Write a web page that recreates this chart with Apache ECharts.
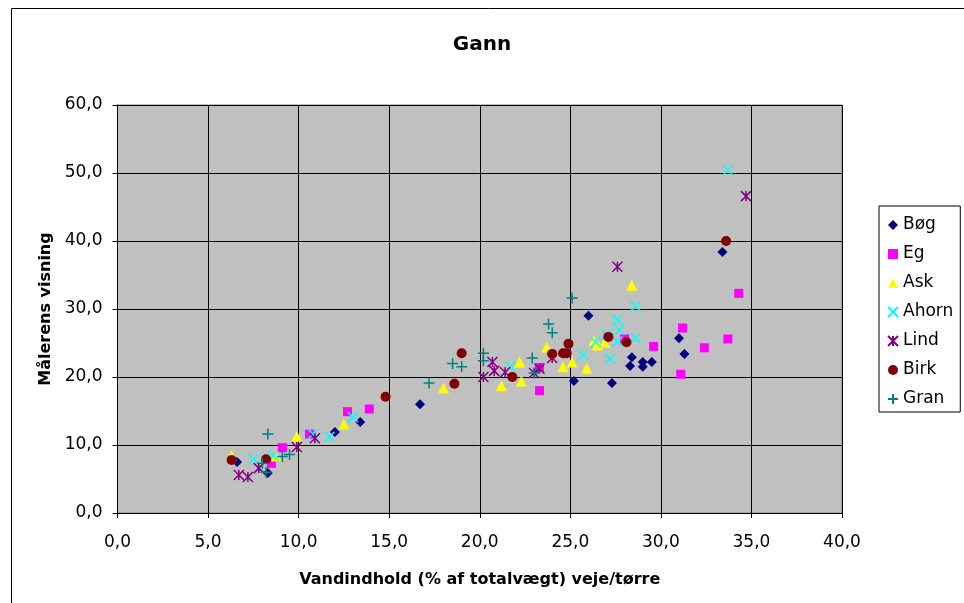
<!DOCTYPE html>
<html>
<head>
<meta charset="utf-8">
<title>Gann</title>
<script src="https://cdn.jsdelivr.net/npm/echarts@6/dist/echarts.min.js"></script>
<style>
  html, body { margin: 0; padding: 0; background: #fff; }
  #main { width: 964px; height: 603px; }
</style>
</head>
<body>
<div id="main"></div>
<script>
// data: [vandindhold %, målerens visning]
var bog = [[6.6,7.5],[8.3,5.9],[12.0,11.9],[13.4,13.4],[16.7,16.0],[25.2,19.4],[26.0,29.0],[27.3,19.1],[28.4,22.9],[28.3,21.6],[29.0,22.2],[29.0,21.5],[29.5,22.2],[31.0,25.7],[31.3,23.4],[33.4,38.4]];
var eg = [[8.5,7.3],[9.1,9.6],[10.6,11.6],[12.7,14.9],[13.9,15.3],[23.3,21.4],[23.3,18.0],[28.0,25.6],[29.6,24.5],[31.2,27.2],[31.1,20.4],[32.4,24.3],[33.7,25.6],[34.3,32.3]];
var ask = [[6.3,8.5],[8.75,8.4],[9.9,11.3],[12.5,13.1],[18.0,18.4],[21.2,18.7],[22.3,19.4],[22.2,22.2],[23.7,24.4],[24.6,21.5],[25.1,22.2],[25.9,21.3],[26.3,25.3],[26.5,24.7],[26.9,25.1],[28.4,33.5]];
var ahorn = [[7.5,7.9],[8.6,8.4],[10.8,11.6],[11.7,11.2],[13.0,14.1],[21.7,21.5],[25.7,23.2],[27.2,22.7],[26.4,25.1],[27.0,26.2],[27.6,25.2],[27.7,26.9],[27.6,28.4],[28.6,25.7],[28.6,30.4],[33.7,50.4]];
var lind = [[6.7,5.6],[7.2,5.3],[7.8,6.6],[9.9,9.7],[10.9,11.0],[20.2,20.0],[20.7,22.2],[20.8,20.9],[21.4,20.7],[23.0,20.6],[23.3,21.2],[24.0,22.8],[27.6,36.2],[34.7,46.6]];
var birk = [[6.3,7.8],[8.2,7.9],[14.8,17.1],[18.6,19.0],[19.0,23.5],[21.8,20.0],[24.0,23.4],[24.9,24.9],[24.6,23.5],[24.8,23.5],[27.1,25.9],[28.1,25.1],[33.6,40.0]];
var gran = [[8.3,11.6],[8.0,7.3],[8.2,6.0],[9.1,8.3],[9.5,8.6],[17.2,19.1],[18.5,22.0],[19.0,21.5],[20.2,23.5],[20.2,22.4],[22.9,22.8],[23.0,20.6],[23.8,27.8],[24.0,26.5],[25.1,31.6]];

var names = ['Bøg', 'Eg', 'Ask', 'Ahorn', 'Lind', 'Birk', 'Gran'];

var FONT = 'DejaVu Sans';
var crossPath = 'path://M0,0L10,10M10,0L0,10';
var starPath = 'path://M0,0L10,10M10,0L0,10M5,0L5,10';
var plusPath = 'path://M5,0L5,10M0,5L10,5';

function fmt(v) { return v.toFixed(1).replace('.', ','); }

function filled(name, data, symbol, size, color) {
  return { name: name, type: 'scatter', data: data, symbol: symbol, symbolSize: size,
    itemStyle: { color: color, opacity: 1 } };
}
function stroked(name, data, symbol, size, color) {
  return { name: name, type: 'scatter', data: data, symbol: symbol, symbolSize: size,
    itemStyle: { color: 'rgba(0,0,0,0)', borderColor: color, borderWidth: 1.5, opacity: 1 } };
}

var myChart = echarts.init(document.getElementById('main'));

var option = {
  animation: false,
  backgroundColor: '#fff',
  textStyle: { fontFamily: FONT },
  graphic: [{
    type: 'rect', shape: { x: 11.5, y: 8.5, width: 1000, height: 700 },
    style: { fill: 'none', stroke: '#000', lineWidth: 1 }, z: -1
  }],
  title: {
    text: 'Gann', left: 'center', top: 30,
    textStyle: { fontFamily: FONT, fontSize: 20, fontWeight: 'bold', color: '#000' }
  },
  legend: {
    orient: 'vertical', left: 879, top: 206,
    data: names,
    backgroundColor: '#fff', borderColor: '#000', borderWidth: 1,
    padding: [9, 7, 3, 8], itemGap: 9, itemWidth: 10, itemHeight: 10,
    textStyle: { fontFamily: FONT, fontSize: 17, color: '#000', lineHeight: 20 },
    selectedMode: false
  },
  grid: {
    left: 117.5, right: 122, top: 105, bottom: 90,
    show: true, backgroundColor: '#c0c0c0', borderColor: '#808080', borderWidth: 1
  },
  xAxis: {
    type: 'value', min: 0, max: 40, interval: 5,
    name: 'Vandindhold (% af totalvægt) veje/tørre', nameLocation: 'middle', nameGap: 59,
    nameTextStyle: { fontFamily: FONT, fontSize: 16, fontWeight: 'bold', color: '#000' },
    axisLine: { show: true, onZero: false, lineStyle: { color: '#000', width: 1 } },
    axisTick: { show: true, length: 5, lineStyle: { color: '#000' } },
    axisLabel: { fontFamily: FONT, fontSize: 17, color: '#000', margin: 21, formatter: fmt },
    splitLine: { show: true, lineStyle: { color: '#000', width: 1 } }
  },
  yAxis: {
    type: 'value', min: 0, max: 60, interval: 10,
    name: 'Målerens visning', nameLocation: 'middle', nameGap: 63,
    nameTextStyle: { fontFamily: FONT, fontSize: 16, fontWeight: 'bold', color: '#000' },
    axisLine: { show: true, onZero: false, lineStyle: { color: '#000', width: 1 } },
    axisTick: { show: true, length: 5, lineStyle: { color: '#000' } },
    axisLabel: { fontFamily: FONT, fontSize: 17, color: '#000', margin: 15, formatter: fmt },
    splitLine: { show: true, lineStyle: { color: '#000', width: 1 } }
  },
  series: [
    filled('Bøg', bog, 'diamond', 10, '#000080'),
    filled('Eg', eg, 'rect', 9, '#ff00ff'),
    filled('Ask', ask, 'triangle', 11, '#ffff00'),
    stroked('Ahorn', ahorn, crossPath, 10, '#00ffff'),
    stroked('Lind', lind, starPath, 10, '#800080'),
    filled('Birk', birk, 'circle', 10, '#800000'),
    stroked('Gran', gran, plusPath, 11, '#008080')
  ]
};

myChart.setOption(option);
window.onresize = function() {
  myChart.resize();
};
</script>
</body>
</html>
